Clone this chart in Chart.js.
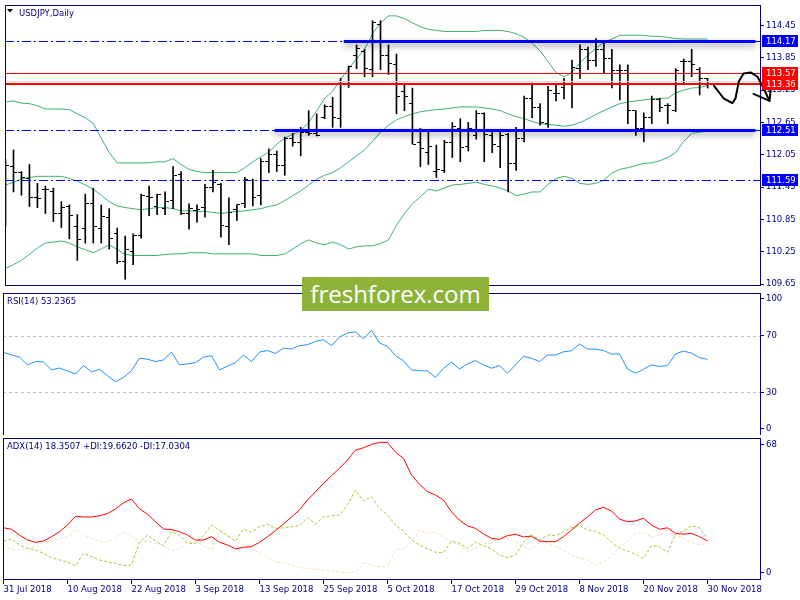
<!DOCTYPE html>
<html>
<head>
<meta charset="utf-8">
<title>USDJPY, Daily</title>
<script src="https://cdn.jsdelivr.net/npm/chart.js@4.4.1/dist/chart.umd.min.js"></script>
<style>
  html, body { margin: 0; padding: 0; background: #fff; }
  #wrap { position: relative; width: 800px; height: 600px; overflow: hidden; background: #fff; }
  #wrap canvas { position: absolute; left: 0; }
  #watermark {
    position: absolute; left: 302px; top: 277px; width: 187px; height: 34px;
    background: #8db33b; color: #fff; font: 24px "Open Sans", sans-serif;
    line-height: 33px; text-align: center;
  }
</style>
</head>
<body>
<div id="wrap">
  <canvas id="priceChart" width="800" height="290" style="top:0"></canvas>
  <canvas id="rsiChart" width="800" height="145" style="top:290px"></canvas>
  <canvas id="adxChart" width="800" height="165" style="top:435px"></canvas>
  <div id="watermark">freshforex.com</div>
</div>
<script>
// daily bars, 31 Jul 2018 .. 30 Nov 2018
const tickDates = ["31 Jul 2018", "10 Aug 2018", "22 Aug 2018", "3 Sep 2018", "13 Sep 2018", "25 Sep 2018",
  "5 Oct 2018", "17 Oct 2018", "29 Oct 2018", "8 Nov 2018", "20 Nov 2018", "30 Nov 2018"];
const barsPerTick = 8;

const open = [111.23, 111.83, 111.72, 111.61, 111.25, 111.41, 111.36, 110.96, 111.09, 110.72,
  110.69, 111.14, 110.69, 110.89, 110.58, 110.07, 110.25, 110.56, 111.27, 111.09,
  111.05, 111.20, 111.69, 110.96, 111.01, 111.07, 111.45, 111.50, 110.72, 111.03,
  111.14, 111.58, 111.29, 111.92, 112.05, 111.85, 112.36, 112.27, 112.47, 112.45,
  112.74, 112.94, 112.72, 113.36, 113.90, 113.96, 113.63, 114.47, 113.90, 113.72,
  113.23, 113.01, 112.27, 112.10, 111.74, 111.76, 112.27, 112.54, 112.21, 112.41,
  112.81, 112.41, 112.20, 112.43, 111.89, 112.36, 113.10, 112.92, 112.63, 113.18,
  113.30, 113.41, 113.65, 114.01, 113.80, 114.01, 113.83, 113.61, 113.61, 112.87,
  112.54, 112.74, 113.07, 112.96, 112.87, 113.78, 113.78, 113.63, 113.47];
const high = [111.96, 112.14, 111.74, 111.87, 111.52, 111.47, 111.43, 111.18, 111.12, 110.94,
  111.32, 111.43, 111.12, 111.05, 110.69, 110.54, 110.58, 111.32, 111.47, 111.32,
  111.36, 111.83, 111.74, 111.14, 111.12, 111.50, 111.76, 111.52, 111.25, 111.12,
  111.63, 111.60, 111.98, 112.16, 112.12, 112.38, 112.45, 112.56, 112.87, 112.81,
  112.98, 113.12, 113.47, 113.70, 114.09, 114.01, 114.54, 114.54, 114.09, 113.92,
  113.38, 113.29, 112.54, 112.49, 112.23, 112.32, 112.65, 112.72, 112.65, 112.87,
  112.83, 112.47, 112.50, 112.45, 112.56, 113.14, 113.38, 113.00, 113.32, 113.36,
  113.47, 113.81, 114.09, 114.05, 114.21, 114.14, 114.01, 113.72, 113.72, 112.87,
  112.83, 113.14, 113.10, 113.00, 113.65, 113.83, 114.01, 113.67, 113.47];
const low = [110.72, 111.36, 111.30, 111.09, 111.07, 110.96, 110.81, 110.70, 110.49, 110.09,
  110.41, 110.41, 110.41, 110.30, 110.03, 109.74, 110.01, 110.50, 110.92, 110.94,
  110.94, 111.05, 110.94, 110.67, 110.80, 110.89, 111.36, 110.52, 110.38, 110.83,
  111.07, 111.10, 111.12, 111.72, 111.74, 111.67, 112.21, 112.03, 112.41, 112.40,
  112.72, 112.56, 112.56, 113.30, 113.65, 113.50, 113.50, 113.63, 113.54, 112.81,
  112.87, 112.25, 111.83, 111.87, 111.63, 111.72, 112.00, 111.92, 112.12, 112.34,
  111.92, 112.09, 111.81, 111.36, 111.76, 112.29, 112.74, 112.60, 112.56, 113.05,
  113.09, 112.92, 113.47, 113.63, 113.69, 113.56, 113.29, 113.07, 112.63, 112.41,
  112.29, 112.63, 112.85, 112.63, 112.85, 113.38, 113.50, 113.16, 113.29];
const close = [111.85, 111.72, 111.63, 111.25, 111.23, 111.40, 110.96, 111.07, 110.92, 110.47,
  111.14, 110.72, 110.90, 110.49, 110.07, 110.30, 110.56, 111.29, 111.25, 111.32,
  111.18, 111.67, 110.96, 111.05, 111.03, 111.45, 111.54, 110.74, 110.98, 111.12,
  111.60, 111.25, 111.92, 112.05, 111.85, 112.36, 112.27, 112.47, 112.45, 112.41,
  112.94, 112.74, 113.38, 113.69, 114.03, 113.65, 114.50, 113.90, 113.74, 113.14,
  113.14, 112.25, 112.16, 112.20, 111.78, 112.27, 112.58, 112.18, 112.54, 112.81,
  112.43, 112.25, 112.41, 111.89, 112.36, 113.09, 112.92, 112.65, 113.25, 113.18,
  113.38, 113.67, 114.01, 113.81, 114.01, 113.83, 113.61, 113.61, 112.87, 112.54,
  112.74, 113.07, 112.92, 112.96, 113.61, 113.78, 113.72, 113.47, 113.38];

// Bollinger bands
const bbUpper = [113.03, 113.05, 113.01, 113.00, 112.96, 112.90, 112.90, 112.90, 112.89, 112.81,
  112.74, 112.63, 112.36, 112.09, 111.90, 111.90, 111.90, 111.90, 111.90, 111.92,
  111.92, 111.98, 111.87, 111.78, 111.74, 111.72, 111.72, 111.72, 111.72, 111.72,
  111.81, 111.92, 112.01, 112.10, 112.25, 112.36, 112.43, 112.50, 112.65, 112.87,
  113.10, 113.23, 113.45, 113.65, 113.83, 114.01, 114.30, 114.50, 114.63, 114.63,
  114.58, 114.50, 114.43, 114.38, 114.36, 114.34, 114.34, 114.34, 114.34, 114.34,
  114.36, 114.36, 114.36, 114.34, 114.30, 114.23, 114.12, 113.98, 113.78, 113.58,
  113.50, 113.58, 113.76, 113.90, 114.03, 114.14, 114.20, 114.27, 114.27, 114.27,
  114.27, 114.25, 114.25, 114.23, 114.21, 114.20, 114.20, 114.20, 114.20];
const bbMiddle = [111.49, 111.54, 111.60, 111.63, 111.65, 111.65, 111.65, 111.65, 111.61, 111.56,
  111.49, 111.41, 111.30, 111.18, 111.10, 111.07, 111.05, 111.03, 111.05, 111.07,
  111.07, 111.05, 111.01, 111.01, 111.00, 111.00, 110.98, 110.96, 110.98, 111.00,
  111.01, 111.03, 111.05, 111.09, 111.12, 111.20, 111.29, 111.38, 111.49, 111.60,
  111.67, 111.72, 111.81, 111.92, 112.03, 112.14, 112.30, 112.47, 112.60, 112.70,
  112.76, 112.81, 112.85, 112.87, 112.89, 112.90, 112.92, 112.94, 112.94, 112.94,
  112.92, 112.90, 112.87, 112.81, 112.76, 112.72, 112.67, 112.63, 112.61, 112.60,
  112.58, 112.60, 112.65, 112.72, 112.80, 112.87, 112.94, 113.00, 113.03, 113.05,
  113.07, 113.09, 113.10, 113.10, 113.20, 113.25, 113.29, 113.30, 113.34];
const bbLower = [109.94, 110.01, 110.09, 110.20, 110.32, 110.41, 110.43, 110.45, 110.41, 110.34,
  110.29, 110.23, 110.30, 110.38, 110.29, 110.20, 110.18, 110.18, 110.18, 110.18,
  110.20, 110.21, 110.21, 110.23, 110.23, 110.23, 110.21, 110.21, 110.21, 110.21,
  110.21, 110.21, 110.18, 110.18, 110.18, 110.21, 110.30, 110.40, 110.47, 110.41,
  110.38, 110.43, 110.38, 110.30, 110.34, 110.36, 110.36, 110.40, 110.47, 110.74,
  110.96, 111.14, 111.27, 111.41, 111.38, 111.43, 111.49, 111.50, 111.52, 111.54,
  111.50, 111.47, 111.43, 111.38, 111.29, 111.32, 111.36, 111.36, 111.50, 111.61,
  111.65, 111.61, 111.52, 111.50, 111.52, 111.58, 111.71, 111.78, 111.81, 111.85,
  111.89, 111.90, 111.94, 112.00, 112.09, 112.30, 112.45, 112.47, 112.49];

const rsi = [58.1, 56.5, 54.8, 49.4, 51.7, 51.5, 45.8, 47.2, 45.1, 43.0,
  48.9, 44.4, 46.3, 41.8, 37.5, 40.6, 45.3, 54.1, 53.4, 51.7,
  52.9, 58.4, 49.4, 50.1, 51.0, 54.8, 55.8, 45.8, 48.6, 51.0,
  56.3, 51.7, 58.4, 59.5, 57.4, 61.2, 60.5, 62.9, 63.6, 65.9,
  67.1, 62.9, 69.0, 71.9, 72.6, 67.8, 73.7, 64.8, 62.4, 55.8,
  52.2, 45.8, 45.3, 45.1, 40.6, 47.0, 51.3, 46.5, 50.1, 52.4,
  49.4, 47.0, 48.9, 43.5, 49.4, 55.3, 54.1, 51.7, 56.3, 56.3,
  58.6, 59.3, 64.1, 60.5, 60.5, 59.5, 57.0, 57.0, 46.5, 43.5,
  46.3, 49.4, 48.2, 48.9, 57.0, 59.1, 57.7, 54.5, 53.24];

const adx = [24.7, 24.0, 21.2, 18.8, 17.7, 18.3, 20.4, 22.8, 26.0, 30.2,
  29.9, 29.9, 30.5, 31.5, 33.8, 36.8, 38.6, 33.8, 31.3, 27.6,
  24.1, 23.8, 22.8, 21.2, 18.8, 18.8, 20.4, 17.7, 16.4, 14.5,
  15.3, 15.6, 17.7, 20.4, 23.3, 26.5, 29.9, 33.3, 38.1, 42.1,
  46.1, 49.8, 53.4, 57.4, 62.2, 63.3, 64.9, 65.9, 65.9, 61.1,
  58.2, 50.1, 45.7, 42.1, 40.5, 38.1, 32.4, 28.4, 25.6, 24.4,
  21.7, 19.6, 19.1, 20.9, 21.6, 20.3, 20.7, 18.3, 18.0, 18.0,
  20.4, 23.6, 26.9, 30.0, 33.3, 34.6, 32.8, 28.9, 27.6, 28.0,
  29.3, 26.0, 24.0, 24.7, 22.0, 21.6, 22.0, 20.4, 18.35];
const plusDi = [18.3, 19.3, 16.4, 14.8, 14.0, 12.4, 10.3, 9.2, 8.1, 6.4,
  12.4, 10.8, 9.2, 8.1, 7.6, 6.4, 6.8, 17.7, 21.2, 18.3,
  16.1, 22.8, 21.2, 17.2, 17.2, 20.9, 26.0, 23.6, 20.9, 18.3,
  24.1, 22.5, 25.2, 26.4, 24.4, 24.7, 25.2, 25.7, 29.6, 26.4,
  30.0, 30.5, 30.9, 35.7, 42.9, 37.6, 39.7, 34.1, 30.9, 26.0,
  23.1, 18.8, 16.4, 14.5, 12.9, 12.7, 18.3, 17.2, 14.8, 17.7,
  16.1, 14.5, 11.6, 10.3, 11.6, 17.7, 21.2, 18.8, 21.2, 20.9,
  22.8, 24.7, 26.0, 23.6, 23.1, 21.2, 17.7, 14.8, 13.5, 11.9,
  10.0, 16.1, 15.6, 12.9, 21.6, 23.1, 25.7, 24.7, 19.66];
const minusDi = [16.4, 14.0, 14.0, 14.8, 15.6, 17.7, 18.3, 19.3, 20.4, 23.6,
  21.2, 19.6, 18.0, 17.7, 19.6, 22.5, 20.9, 18.0, 18.3, 17.2,
  16.1, 13.5, 14.5, 17.7, 18.0, 16.1, 14.0, 22.8, 21.2, 18.0,
  16.4, 14.8, 12.4, 10.3, 8.3, 7.6, 6.8, 5.4, 5.2, 4.7,
  4.3, 3.9, 3.5, 3.0, 3.5, 7.6, 6.8, 5.9, 5.9, 14.0,
  14.5, 18.0, 23.6, 22.0, 22.8, 20.4, 18.0, 16.4, 13.2, 14.8,
  17.2, 17.2, 20.4, 19.6, 18.0, 15.6, 14.0, 18.0, 17.2, 15.6,
  14.0, 11.6, 10.0, 9.2, 6.8, 8.3, 10.8, 15.6, 18.0, 22.0,
  22.5, 20.4, 21.2, 23.6, 21.2, 19.6, 17.7, 16.4, 17.03];

const priceTicks = [109.65, 110.25, 110.85, 111.45, 112.05, 112.65, 113.25, 113.85, 114.45];
const rsiLevels = [70, 30];
// "100" and "0" are drawn just inside the panel, as the terminal does
const rsiTicks = [{ value: 96.2, label: "100" }, { value: 70, label: "70" }, { value: 30, label: "30" }, { value: 4.6, label: "0" }];
const adxTicks = [{ value: 64.9, label: "68" }, { value: 3.2, label: "0" }];

// horizontal levels and trend lines drawn on the price window
const dashDotLevels = [114.17, 112.51, 111.59];
const trendLevels = [{ price: 114.17, from: 42.4, to: 94 }, { price: 112.51, from: 33.7, to: 94 }];
const redLevel = 113.57;
const redLevelBold = 113.36;
const askLine = 113.42;
const axisTags = [
  { price: 114.17, color: "#0000ff" },
  { price: 113.57, color: "#ff0000" },
  { price: 113.36, color: "#ff0000" },
  { price: 112.51, color: "#0000ff" },
  { price: 111.59, color: "#0000ff" }
];
// hand drawn forecast arrow, in (bar, price)
const arrowPath = [[88.8, 113.33], [90, 113.10], [91.1, 113.01], [91.5, 113.10], [91.9, 113.41],
  [92.5, 113.56], [93.4, 113.58], [94.25, 113.50], [95, 113.29], [95.75, 113.05]];
const arrowHead = [[93.75, 113.18], [95.75, 113.05], [96, 113.38]];

const navy = "#000080";
const bandGreen = "#3cb371";
const font = { family: "DejaVu Sans", size: 8.5 };
const xMin = -0.0625;
const xMax = xMin + 757 / 8;

function tickImage(side) {
  const c = document.createElement("canvas");
  c.width = 7;
  c.height = 1;
  const g = c.getContext("2d");
  g.fillStyle = "#000";
  g.fillRect(side === "left" ? 0 : 4, 0, 3, 1);
  return c;
}

function series(values) {
  return values.map((v, i) => ({ x: i, y: v }));
}

function xAxis(show) {
  const axis = {
    type: "linear",
    min: xMin,
    max: xMax,
    offset: false,
    display: show,
    border: { display: false },
    grid: { display: show, drawOnChartArea: false, drawTicks: true, tickLength: 5, color: navy, offset: false }
  };
  if (show) {
    axis.afterFit = (s) => { s.height = 21; s.paddingLeft = 0; s.paddingRight = 0; };
    axis.afterBuildTicks = (s) => { s.ticks = tickDates.map((_, k) => ({ value: k * barsPerTick })); };
    axis.ticks = {
      color: navy, font, padding: 1, align: "start", autoSkip: false, maxRotation: 0,
      callback: (_v, idx) => tickDates[idx]
    };
  }
  return axis;
}

function rightAxis(min, max, ticks) {
  return {
    position: "right",
    min, max,
    beginAtZero: false,
    afterFit(s) { s.width = 40; s.paddingTop = 0; s.paddingBottom = 0; },
    afterBuildTicks(s) { s.ticks = ticks.map((t) => ({ value: t.value })); },
    border: { display: false },
    grid: { drawOnChartArea: false, drawTicks: true, tickLength: 4, color: navy },
    ticks: { color: navy, font, padding: 2, autoSkip: false, callback: (_v, idx) => ticks[idx].label }
  };
}

const panelPlugin = {
  id: "panel",
  beforeDatasetsDraw(chart) {
    // keeps the 1px open/close ticks crisp
    chart.ctx.imageSmoothingEnabled = false;
  },
  afterDraw(chart, _args, opts) {
    const { ctx, chartArea: a } = chart;
    ctx.save();
    ctx.strokeStyle = navy;
    ctx.lineWidth = 1;
    ctx.strokeRect(a.left + 0.5, a.top + 0.5, a.right - a.left, a.bottom - a.top);
    ctx.fillStyle = navy;
    ctx.font = `${font.size}px "${font.family}"`;
    ctx.textBaseline = "middle";
    ctx.fillText(opts.title, opts.titleX, a.top + opts.titleDy);
    ctx.restore();
  }
};

const chartBase = (padding, extra) => ({
  responsive: false,
  animation: false,
  devicePixelRatio: 1,
  events: [],
  layout: { padding },
  plugins: { legend: { display: false }, tooltip: { enabled: false }, ...extra }
});

const levelsPlugin = {
  id: "levels",
  afterDatasetsDraw(chart) {
    const { ctx, chartArea: a, scales: { x, y } } = chart;
    ctx.save();
    ctx.beginPath();
    ctx.rect(a.left, a.top, a.right - a.left, a.bottom - a.top);
    ctx.clip();
    const hline = (price, color, width, dash, x0, x1) => {
      const py = Math.round(y.getPixelForValue(price)) + (width % 2 ? 0.5 : 0);
      ctx.strokeStyle = color;
      ctx.lineWidth = width;
      ctx.setLineDash(dash);
      ctx.beginPath();
      ctx.moveTo(x0, py);
      ctx.lineTo(x1, py);
      ctx.stroke();
    };
    hline(askLine, "#d8d8d8", 1, [], a.left, a.right);
    hline(redLevel, "#ff0000", 1, [], a.left, a.right);
    hline(redLevelBold, "#ff0000", 2, [], a.left, a.right);
    dashDotLevels.forEach((p) => hline(p, "#0000ff", 1, [9, 3, 2, 3], a.left, a.right));
    ctx.shadowColor = "rgba(0, 0, 0, 0.45)";
    ctx.shadowBlur = 6;
    ctx.shadowOffsetY = 3;
    trendLevels.forEach((t) => hline(t.price, "#0000ff", 3, [], x.getPixelForValue(t.from), x.getPixelForValue(t.to)));
    ctx.restore();
  },
  afterDraw(chart) {
    const { ctx, chartArea: a, scales: { x, y } } = chart;
    ctx.save();
    // forecast arrow
    ctx.strokeStyle = "#000";
    ctx.lineWidth = 2;
    ctx.lineJoin = "round";
    ctx.lineCap = "round";
    ctx.beginPath();
    arrowPath.forEach(([b, p], i) => {
      const px = x.getPixelForValue(b), py = y.getPixelForValue(p);
      if (i === 0) ctx.moveTo(px, py); else ctx.lineTo(px, py);
    });
    ctx.stroke();
    ctx.beginPath();
    arrowHead.forEach(([b, p], i) => {
      const px = x.getPixelForValue(b), py = y.getPixelForValue(p);
      if (i === 0) ctx.moveTo(px, py); else ctx.lineTo(px, py);
    });
    ctx.stroke();
    // price tags on the axis
    ctx.font = `${font.size}px "${font.family}"`;
    ctx.textBaseline = "middle";
    axisTags.forEach((t) => {
      const py = Math.round(y.getPixelForValue(t.price));
      ctx.fillStyle = t.color;
      ctx.fillRect(a.right + 2, py - 6, 36, 12);
      ctx.fillStyle = "#fff";
      ctx.fillText(t.price.toFixed(2), a.right + 6, py + 0.5);
    });
    // symbol marker
    ctx.fillStyle = "#000";
    ctx.beginPath();
    ctx.moveTo(7, 9);
    ctx.lineTo(13, 9);
    ctx.lineTo(10, 12.5);
    ctx.closePath();
    ctx.fill();
    ctx.restore();
  }
};

const rsiLevelPlugin = {
  id: "rsiLevels",
  beforeDatasetsDraw(chart) {
    const { ctx, chartArea: a, scales: { y } } = chart;
    ctx.save();
    ctx.strokeStyle = "#c0c0c0";
    ctx.lineWidth = 1;
    ctx.setLineDash([3, 3]);
    rsiLevels.forEach((v) => {
      const py = Math.round(y.getPixelForValue(v)) + 0.5;
      ctx.beginPath();
      ctx.moveTo(a.left, py);
      ctx.lineTo(a.right, py);
      ctx.stroke();
    });
    ctx.restore();
  }
};

new Chart(document.getElementById("priceChart"), {
  type: "bar",
  data: {
    datasets: [
      {
        type: "bar",
        data: high.map((h, i) => ({ x: i, y: [low[i], h] })),
        backgroundColor: "#000",
        borderWidth: 0,
        barThickness: 1,
        order: 0
      },
      { type: "line", data: series(open), showLine: false, pointStyle: tickImage("left"), pointRadius: 1, order: 0 },
      { type: "line", data: series(close), showLine: false, pointStyle: tickImage("right"), pointRadius: 1, order: 0 },
      { type: "line", data: series(bbUpper), borderColor: bandGreen, borderWidth: 1, pointRadius: 0, order: 1 },
      { type: "line", data: series(bbMiddle), borderColor: bandGreen, borderWidth: 1, pointRadius: 0, order: 1 },
      { type: "line", data: series(bbLower), borderColor: bandGreen, borderWidth: 1, pointRadius: 0, order: 1 }
    ]
  },
  options: {
    ...chartBase({ left: 3, top: 2, bottom: 2, right: 0 }, { panel: { title: "USDJPY,Daily", titleX: 19, titleDy: 9 } }),
    scales: {
      x: xAxis(false),
      y: rightAxis(109.632, 114.832, priceTicks.map((v) => ({ value: v, label: v.toFixed(2) })))
    }
  },
  plugins: [panelPlugin, levelsPlugin]
});

new Chart(document.getElementById("rsiChart"), {
  type: "line",
  data: {
    datasets: [{ data: series(rsi), borderColor: "#1e90ff", borderWidth: 1, pointRadius: 0 }]
  },
  options: {
    ...chartBase({ left: 3, top: 3, bottom: 0, right: 0 }, { panel: { title: "RSI(14) 53.2365", titleX: 7, titleDy: 9 } }),
    scales: { x: xAxis(false), y: rightAxis(0, 100, rsiTicks) }
  },
  plugins: [panelPlugin, rsiLevelPlugin]
});

new Chart(document.getElementById("adxChart"), {
  type: "line",
  data: {
    datasets: [
      { data: series(adx), borderColor: "#ff0000", borderWidth: 1, pointRadius: 0 },
      { data: series(plusDi), borderColor: "#9acd32", borderWidth: 1, borderDash: [3, 2], pointRadius: 0 },
      { data: series(minusDi), borderColor: "#f5deb3", borderWidth: 1, borderDash: [3, 2], pointRadius: 0 }
    ]
  },
  options: {
    ...chartBase({ left: 3, top: 3, bottom: 0, right: 0 },
      { panel: { title: "ADX(14) 18.3507 +DI:19.6620 -DI:17.0304", titleX: 7, titleDy: 9 } }),
    scales: { x: xAxis(true), y: rightAxis(0, 68, adxTicks) }
  },
  plugins: [panelPlugin]
});
</script>
</body>
</html>
